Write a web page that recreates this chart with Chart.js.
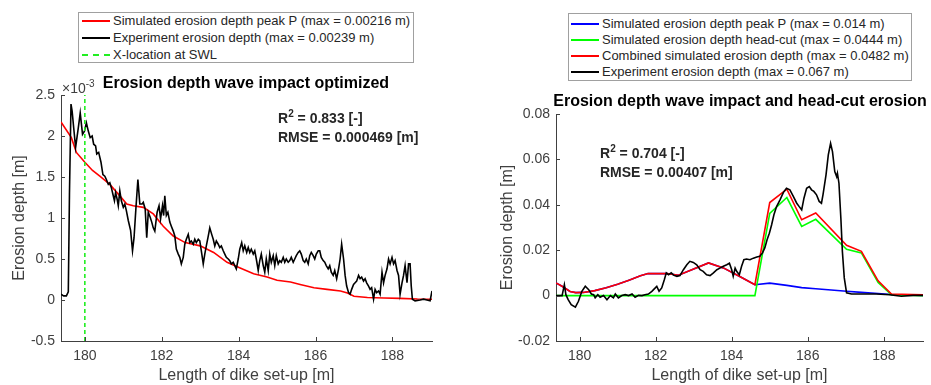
<!DOCTYPE html>
<html><head><meta charset="utf-8">
<script src="https://cdn.jsdelivr.net/npm/chart.js@4"></script>
<style>
body{margin:0;width:931px;height:385px;background:#fff;position:relative;overflow:hidden;font-family:"Liberation Sans",Arial,sans-serif}
canvas{position:absolute;top:0}
#c1{left:0}#c2{left:470px}
.box{position:absolute;border:1px solid #a0a0a0;background:#fff;box-sizing:border-box}
.lrow{position:absolute;font-size:13px;color:#262626;white-space:nowrap;line-height:16px;height:16px}
.sw{position:absolute;width:28px;height:0}
.title{position:absolute;font-weight:bold;font-size:16px;line-height:20px;color:#000;white-space:nowrap;transform:translateX(-50%)}
.ann{position:absolute;font-weight:bold;font-size:14px;line-height:18px;color:#262626;white-space:nowrap}
.sup{position:relative;top:-6px;font-size:10px}
.exp{position:absolute;font-size:14px;line-height:16px;color:#404040;white-space:nowrap}
</style></head>
<body>
<canvas id="c1" width="470" height="385"></canvas>
<canvas id="c2" width="461" height="385"></canvas>

<div class="box" style="left:78px;top:12px;width:336px;height:51px"></div>
<div class="sw" style="left:82px;top:20px;border-top:2px solid #ff0000"></div>
<div class="lrow" style="left:113px;top:13px">Simulated erosion depth peak P (max = 0.00216 m)</div>
<div class="sw" style="left:82px;top:37px;border-top:2px solid #000"></div>
<div class="lrow" style="left:113px;top:30px">Experiment erosion depth (max = 0.00239 m)</div>
<div class="sw" style="left:82px;top:54px;border-top:2px dashed #22ee22"></div>
<div class="lrow" style="left:113px;top:47px">X-location at SWL</div>

<div class="box" style="left:568px;top:13px;width:344px;height:68px"></div>
<div class="sw" style="left:571px;top:23px;border-top:2px solid #0000ff"></div>
<div class="lrow" style="left:602px;top:16px">Simulated erosion depth peak P (max = 0.014 m)</div>
<div class="sw" style="left:571px;top:39px;border-top:2px solid #00ff00"></div>
<div class="lrow" style="left:602px;top:32px">Simulated erosion depth head-cut (max = 0.0444 m)</div>
<div class="sw" style="left:571px;top:55px;border-top:2px solid #ff0000"></div>
<div class="lrow" style="left:602px;top:48px">Combined simulated erosion depth (max = 0.0482 m)</div>
<div class="sw" style="left:571px;top:71px;border-top:2px solid #000"></div>
<div class="lrow" style="left:602px;top:64px">Experiment erosion depth (max = 0.067 m)</div>

<div class="exp" style="left:62px;top:80px">×10<span class="sup">-3</span></div>
<div class="title" style="left:246px;top:73px">Erosion depth wave impact optimized</div>
<div class="title" style="left:740px;top:91px">Erosion depth wave impact and head-cut erosion</div>

<div class="ann" style="left:278px;top:109px">R<span class="sup">2</span> = 0.833 [-]</div>
<div class="ann" style="left:278px;top:128px">RMSE = 0.000469 [m]</div>
<div class="ann" style="left:600px;top:144px">R<span class="sup">2</span> = 0.704 [-]</div>
<div class="ann" style="left:600px;top:163px">RMSE = 0.00407 [m]</div>

<script>
// ---------- Left chart data (erosion depth in units of 1e-3 m) ----------
const xTicks = [180, 182, 184, 186, 188];
const xTickLabels = ['180', '182', '184', '186', '188'];
const leftYTicks = [-0.5, 0, 0.5, 1, 1.5, 2, 2.5];
const leftYTickLabels = ['-0.5', '0', '0.5', '1', '1.5', '2', '2.5'];
const rightYTicks = [-0.02, 0, 0.02, 0.04, 0.06, 0.08];
const rightYTickLabels = ['-0.02', '0', '0.02', '0.04', '0.06', '0.08'];

const leftExpX = [179.38,179.45,179.52,179.57,179.6,179.64,179.67,179.71,179.76,179.83,179.88,179.94,179.99,180.04,180.09,180.14,180.19,180.23,180.28,180.31,180.36,180.42,180.47,180.52,180.56,180.61,180.65,180.69,180.73,180.77,180.8,180.84,180.87,180.91,180.95,181.0,181.04,181.08,181.13,181.19,181.24,181.28,181.33,181.38,181.43,181.49,181.52,181.57,181.61,181.65,181.7,181.74,181.78,181.82,181.88,181.93,181.97,182.02,182.05,182.08,182.12,182.16,182.21,182.25,182.3,182.34,182.38,182.43,182.47,182.51,182.56,182.6,182.64,182.69,182.73,182.77,182.82,182.86,182.9,182.95,182.99,183.03,183.08,183.12,183.16,183.21,183.25,183.3,183.34,183.38,183.42,183.47,183.51,183.55,183.6,183.64,183.68,183.73,183.77,183.81,183.86,183.9,183.94,183.99,184.03,184.08,184.12,184.16,184.21,184.25,184.29,184.33,184.38,184.42,184.46,184.51,184.55,184.59,184.64,184.68,184.72,184.77,184.81,184.85,184.9,184.94,184.98,185.03,185.07,185.11,185.16,185.2,185.24,185.29,185.33,185.37,185.42,185.46,185.5,185.55,185.59,185.63,185.68,185.72,185.76,185.81,185.85,185.89,185.94,185.98,186.02,186.07,186.11,186.15,186.2,186.24,186.28,186.33,186.37,186.41,186.46,186.5,186.55,186.6,186.64,186.68,186.73,186.77,186.81,186.86,186.9,186.94,186.99,187.03,187.07,187.12,187.16,187.2,187.25,187.29,187.33,187.38,187.42,187.46,187.51,187.55,187.59,187.64,187.68,187.73,187.77,187.81,187.86,187.9,187.94,187.99,188.03,188.07,188.12,188.16,188.2,188.25,188.29,188.33,188.38,188.42,188.46,188.49,188.52,188.59,188.72,188.81,188.9,188.98,189.03];
const leftExpY = [0.07,0.05,0.05,0.1,1.29,2.39,2.3,2.1,1.86,2.1,2.28,2.02,2.06,2.16,2.06,1.98,2.0,1.9,1.88,1.78,1.8,1.68,1.53,1.51,1.47,1.41,1.43,1.37,1.29,1.21,1.31,1.23,1.15,1.33,1.21,1.13,1.17,1.09,0.97,0.85,0.6,0.76,1.13,1.47,1.17,1.17,1.19,1.11,0.76,1.07,1.01,0.95,0.88,0.84,1.07,1.15,0.99,1.15,1.03,1.27,1.03,1.07,0.95,0.9,0.84,0.78,0.62,0.56,0.52,0.44,0.52,0.68,0.74,0.8,0.7,0.72,0.68,0.74,0.7,0.74,0.72,0.6,0.44,0.56,0.66,0.78,0.88,0.8,0.74,0.66,0.72,0.68,0.64,0.66,0.6,0.56,0.52,0.5,0.48,0.44,0.46,0.42,0.38,0.5,0.62,0.7,0.6,0.66,0.58,0.64,0.58,0.62,0.56,0.6,0.5,0.36,0.48,0.56,0.42,0.34,0.5,0.36,0.56,0.46,0.54,0.42,0.54,0.44,0.48,0.46,0.52,0.46,0.5,0.46,0.48,0.52,0.46,0.5,0.54,0.58,0.6,0.56,0.48,0.46,0.5,0.44,0.54,0.58,0.54,0.5,0.56,0.6,0.6,0.52,0.48,0.46,0.42,0.38,0.42,0.34,0.3,0.36,0.26,0.38,0.5,0.68,0.5,0.3,0.17,0.09,0.07,0.13,0.19,0.21,0.23,0.3,0.26,0.28,0.23,0.26,0.21,0.17,0.13,0.15,0.01,0.13,0.09,0.11,0.07,0.34,0.21,0.3,0.38,0.5,0.44,0.52,0.44,0.48,0.36,0.3,0.07,0.21,0.3,0.42,0.21,0.44,0.44,0.17,0.01,-0.01,0.0,0.01,0.0,-0.01,0.11];

const leftSimX = [179.38,179.65,179.78,180.0,180.2,180.39,180.65,180.91,181.09,181.26,181.52,181.78,182.04,182.3,182.61,183.0,183.35,183.7,184.04,184.39,184.74,185.0,185.35,185.6,185.96,186.3,186.65,186.83,187.0,187.35,187.78,188.2,188.65,189.03];
const leftSimY = [2.17,1.98,1.8,1.68,1.58,1.51,1.41,1.27,1.17,1.15,1.13,1.05,0.9,0.78,0.7,0.66,0.58,0.46,0.39,0.32,0.28,0.24,0.22,0.19,0.15,0.13,0.11,0.085,0.045,0.03,0.025,0.02,0.012,0.01];

const swlX = [180, 180];
const swlY = [-0.5, 2.5];

// ---------- Right chart data (m) ----------
const rightExpX = [179.38,179.54,179.6,179.64,179.7,179.78,179.89,179.97,180.06,180.15,180.24,180.31,180.37,180.41,180.48,180.54,180.63,180.72,180.81,180.89,180.94,181.02,181.11,181.2,181.29,181.38,181.46,181.55,181.64,181.72,181.81,181.9,181.99,182.03,182.09,182.16,182.23,182.28,182.34,182.41,182.47,182.56,182.64,182.73,182.82,182.9,182.99,183.08,183.17,183.25,183.34,183.43,183.52,183.61,183.69,183.78,183.87,183.94,184.0,184.04,184.09,184.13,184.2,184.26,184.32,184.39,184.48,184.57,184.66,184.74,184.81,184.87,184.93,184.99,185.05,185.11,185.18,185.27,185.36,185.44,185.53,185.62,185.71,185.77,185.84,185.9,185.97,186.04,186.1,186.16,186.23,186.3,186.36,186.4,186.48,186.54,186.6,186.65,186.71,186.76,186.78,186.82,186.87,186.91,186.96,187.02,187.15,187.45,187.8,188.15,188.46,188.77,189.03];
const rightExpY = [0.0,0.0,0.0048,0.0004,-0.0018,-0.004,-0.0051,-0.0025,0.0019,0.0041,0.0026,0.0007,0.0004,-0.001,0.0004,-0.0007,0.0,-0.0018,0.0,-0.001,0.0007,-0.001,0.0,0.0004,0.0,0.0007,-0.0007,0.0001,0.0,0.0004,0.0007,0.0019,0.0034,0.0041,0.0019,0.0034,0.0071,0.01,0.0092,0.01,0.009,0.0085,0.0088,0.0114,0.0136,0.0151,0.0146,0.0136,0.0114,0.0107,0.0092,0.0088,0.01,0.0114,0.0121,0.0129,0.0136,0.0143,0.0114,0.0085,0.0121,0.0107,0.0092,0.0129,0.0158,0.0161,0.0158,0.0165,0.017,0.0173,0.0188,0.021,0.0246,0.0275,0.0312,0.0356,0.0392,0.0422,0.0455,0.0473,0.0466,0.0437,0.0407,0.0393,0.0378,0.0429,0.0473,0.048,0.0466,0.0459,0.0444,0.0415,0.0407,0.0444,0.0532,0.062,0.0671,0.0634,0.0546,0.0524,0.0539,0.0495,0.0342,0.0195,0.0078,0.0012,0.0007,0.0007,0.0007,0.0004,-0.0003,0.0001,0.0001];

const rightCombX = [179.38,179.55,179.75,179.9,180.1,180.4,180.7,181.0,181.3,181.6,181.8,182.0,182.3,182.6,183.0,183.39,183.78,184.2,184.61,185.0,185.45,185.84,186.21,187.02,187.41,187.85,188.2,189.03];
const rightCombY = [0.0056,0.004,0.0018,0.0013,0.0014,0.0022,0.0035,0.005,0.0068,0.0087,0.0097,0.0097,0.0097,0.009,0.0117,0.0144,0.0122,0.0085,0.0048,0.041,0.0469,0.0334,0.0364,0.0222,0.0195,0.0065,0.0007,0.0004];

const rightHeadX = [179.38,184.61,185.0,185.45,185.84,186.21,187.02,187.41,187.85,188.2,189.03];
const rightHeadY = [0,0,0.0362,0.0432,0.0305,0.0336,0.0204,0.0188,0.0058,0.0004,0];

const rightPeakX = [179.38,179.55,179.75,179.9,180.1,180.4,180.7,181.0,181.3,181.6,181.8,182.0,182.3,182.6,183.0,183.39,183.78,184.2,184.61,185.0,185.45,185.84,186.21,187.02,187.41,187.85,188.2,189.03];
const rightPeakY = [0.0056,0.004,0.0018,0.0013,0.0014,0.0022,0.0035,0.005,0.0068,0.0087,0.0097,0.0097,0.0097,0.009,0.0117,0.0144,0.0122,0.0085,0.0048,0.0055,0.0045,0.0035,0.003,0.0019,0.0014,0.0009,0.0005,0.0001];

const X_MIN = 179.38, X_MAX = 189.03;

// ---------- helpers ----------
const pts = (xs, ys) => xs.map((x, i) => ({x: x, y: ys[i]}));
const FONT = '"Liberation Sans", Arial, sans-serif';
const AXC = '#404040';

const inwardTicks = {
  id: 'inwardTicks',
  afterDraw(chart) {
    const {ctx, chartArea: a, scales: {x, y}} = chart;
    ctx.save();
    ctx.strokeStyle = AXC; ctx.lineWidth = 1;
    ctx.beginPath();
    x.ticks.forEach(t => { const p = Math.round(x.getPixelForValue(t.value)) + 0.5; ctx.moveTo(p, a.bottom); ctx.lineTo(p, a.bottom - 4); });
    y.ticks.forEach(t => { const p = Math.round(y.getPixelForValue(t.value)) + 0.5; ctx.moveTo(a.left, p); ctx.lineTo(a.left + 4, p); });
    ctx.stroke();
    ctx.restore();
  }
};

function makeChart(id, datasets, yMin, yMax, yTicks, yLabels, pad, yWidth) {
  return new Chart(document.getElementById(id), {
    type: 'scatter',
    data: {datasets: datasets},
    options: {
      responsive: false, animation: false,
      layout: {padding: pad},
      plugins: {legend: {display: false}, tooltip: {enabled: false}},
      elements: {point: {radius: 0}, line: {tension: 0}},
      scales: {
        x: {
          type: 'linear', min: X_MIN, max: X_MAX,
          afterBuildTicks: s => { s.ticks = xTicks.map(v => ({value: v})); },
          afterFit: s => { s.height = 44; },
          grid: {display: false, drawTicks: false},
          border: {display: true, color: AXC, width: 1},
          ticks: {padding: 7, color: AXC, font: {family: FONT, size: 14}, maxRotation: 0,
                   callback: (v, i) => xTickLabels[i]},
          title: {display: true, text: 'Length of dike set-up [m]', color: AXC,
                  font: {family: FONT, size: 16}, padding: {top: 0, bottom: 0}}
        },
        y: {
          type: 'linear', min: yMin, max: yMax,
          afterBuildTicks: s => { s.ticks = yTicks.map(v => ({value: v})); },
          afterFit: s => { s.width = yWidth; },
          grid: {display: false, drawTicks: false},
          border: {display: true, color: AXC, width: 1},
          ticks: {padding: 6, color: AXC, font: {family: FONT, size: 14},
                  callback: (v, i) => yLabels[i]},
          title: {display: true, text: 'Erosion depth [m]', color: AXC,
                  font: {family: FONT, size: 16}, padding: {top: 4, bottom: 0}}
        }
      }
    },
    plugins: [inwardTicks]
  });
}

const LW = 1.6;
makeChart('c1', [
  {label: 'X-location at SWL', data: pts(swlX, swlY), showLine: true, borderColor: '#22ee22', borderWidth: LW, borderDash: [4, 3], order: 0},
  {label: 'Experiment erosion depth', data: pts(leftExpX, leftExpY), showLine: true, borderColor: '#000000', borderWidth: LW, order: 1},
  {label: 'Simulated erosion depth peak P', data: pts(leftSimX, leftSimY), showLine: true, borderColor: '#ff0000', borderWidth: LW, order: 2}
], -0.5, 2.5, leftYTicks, leftYTickLabels, {left: 6, top: 95, right: 38, bottom: 0}, 55);

makeChart('c2', [
  {label: 'Experiment erosion depth', data: pts(rightExpX, rightExpY), showLine: true, borderColor: '#000000', borderWidth: LW, order: 0},
  {label: 'Combined simulated erosion depth', data: pts(rightCombX, rightCombY), showLine: true, borderColor: '#ff0000', borderWidth: LW, order: 1},
  {label: 'Simulated erosion depth head-cut', data: pts(rightHeadX, rightHeadY), showLine: true, borderColor: '#00ff00', borderWidth: LW, order: 2},
  {label: 'Simulated erosion depth peak P', data: pts(rightPeakX, rightPeakY), showLine: true, borderColor: '#0000ff', borderWidth: LW, order: 3}
], -0.02, 0.08, rightYTicks, rightYTickLabels, {left: 24, top: 114, right: 8, bottom: 0}, 62);
</script>
</body></html>
